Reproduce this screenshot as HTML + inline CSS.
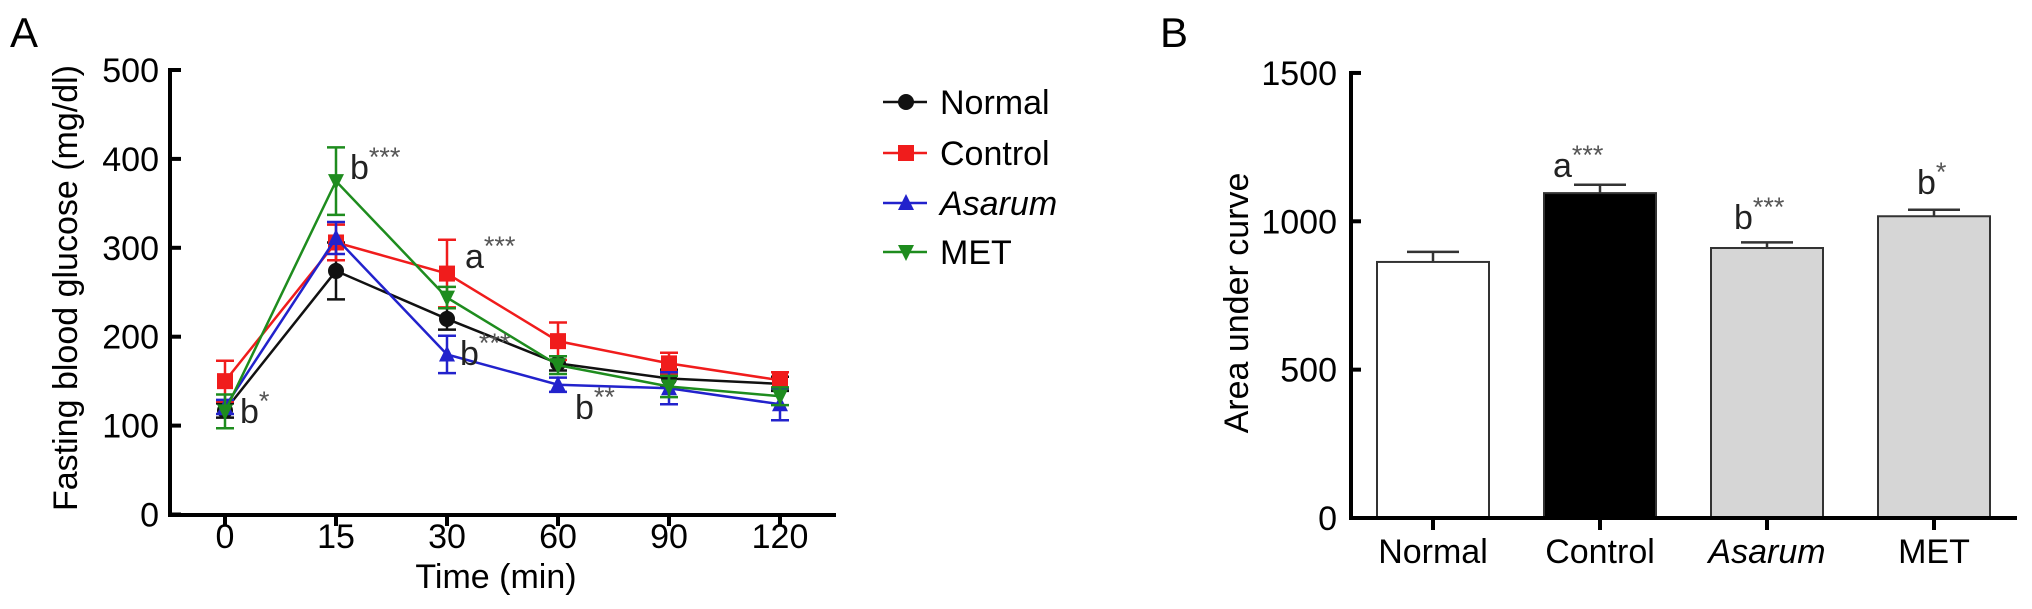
<!DOCTYPE html>
<html><head><meta charset="utf-8"><style>
body{margin:0;background:#fff;}
svg{display:block;font-family:"Liberation Sans",Arial,sans-serif;}
</style></head><body>
<svg id="chart" width="2032" height="609" viewBox="0 0 2032 609" xmlns="http://www.w3.org/2000/svg">
<text x="10" y="47" font-size="42">A</text>
<text x="1160" y="47" font-size="42">B</text>
<g id="pa"></g>
<g id="pb"></g>
</svg>
<script>
const timeCats = ["0","15","30","60","90","120"];
const seriesNames = ["Normal","Control","Asarum","MET"];
const normalVals = [117,274,220,170,153,147];
const controlVals = [150,306,271,195,170,151];
const asarumVals = [121,311,180,146,142,124];
const metVals = [116,375,244,168,144,133];
const normalErr = [8,32,12,8,10,8];
const controlErr = [23,20,38,21,12,9];
const asarumErr = [8,18,21,8,18,18];
const metErr = [19,38,12,10,12,10];
const yTicksA = [0,100,200,300,400,500];

const barCats = ["Normal","Control","Asarum","MET"];
const aucVals = [863,1095,910,1017];
const aucErr = [34,28,19,22];
const yTicksB = [0,500,1000,1500];

const NS="http://www.w3.org/2000/svg";
function mk(parent,tag,attrs,text){const e=document.createElementNS(NS,tag);for(const k in attrs)e.setAttribute(k,attrs[k]);if(text!==undefined)e.textContent=text;parent.appendChild(e);return e;}
const FS=34;

// Panel A
const pa=document.getElementById('pa');
const yA=v=>514.5-v*0.889;
const xA=i=>225+i*111;
let ax=mk(pa,'line',{x1:170,y1:yA(500)-2,x2:170,y2:517,stroke:'#000','stroke-width':4});


yTicksA.forEach(t=>{
  mk(pa,'line',{x1:170,x2:181,y1:yA(t),y2:yA(t),stroke:'#000','stroke-width':4});
  const l=mk(pa,'text',{x:159,y:yA(t)+12,'font-size':FS,'text-anchor':'end'},t);
  
  
});
let xax=mk(pa,'line',{x1:168,y1:515,x2:836,y2:515,stroke:'#000','stroke-width':4});


timeCats.forEach((c,i)=>{
  mk(pa,'line',{x1:xA(i),x2:xA(i),y1:515,y2:526,stroke:'#000','stroke-width':4});
  const l=mk(pa,'text',{x:xA(i),y:548,'font-size':FS,'text-anchor':'middle'},c);
  
  
});
let yt=mk(pa,'text',{transform:'translate(77,288) rotate(-90)','font-size':FS,'text-anchor':'middle'},'Fasting blood glucose (mg/dl)');


let xt=mk(pa,'text',{x:496,y:588,'font-size':FS,'text-anchor':'middle'},'Time (min)');



const colors=['#111','#f01c1c','#2222cc','#1e8c1e'];
const allVals=[normalVals,controlVals,asarumVals,metVals];
const allErr=[normalErr,controlErr,asarumErr,metErr];
function marker(g,k,x,y){
  const c=colors[k];
  if(k===0) return mk(g,'circle',{cx:x,cy:y,r:8,fill:c});
  if(k===1) return mk(g,'rect',{x:x-8,y:y-8,width:16,height:16,fill:c});
  if(k===2) return mk(g,'polygon',{points:`${x},${y-9} ${x-8},${y+7} ${x+8},${y+7}`,fill:c});
  return mk(g,'polygon',{points:`${x},${y+9} ${x-8},${y-7} ${x+8},${y-7}`,fill:c});
}
allVals.forEach((vals,k)=>{
  const g=mk(pa,'g',{});
  
  
  vals.forEach((v,i)=>{
    const e=allErr[k][i],x=xA(i);
    mk(g,'line',{x1:x,x2:x,y1:yA(v-e),y2:yA(v+e),stroke:colors[k],'stroke-width':2.5});
    mk(g,'line',{x1:x-9,x2:x+9,y1:yA(v-e),y2:yA(v-e),stroke:colors[k],'stroke-width':2.5});
    mk(g,'line',{x1:x-9,x2:x+9,y1:yA(v+e),y2:yA(v+e),stroke:colors[k],'stroke-width':2.5});
  });
  mk(g,'polyline',{points:vals.map((v,i)=>xA(i)+','+yA(v)).join(' '),fill:'none',stroke:colors[k],'stroke-width':2.5});
  vals.forEach((v,i)=>{
    const m=marker(g,k,xA(i),yA(v));
    
    
  });
});
function annot(parent,x,y,letter,stars,name){
  const t=mk(parent,'text',{x:x,y:y,'font-size':FS,fill:'#222'});
  
  
  mk(t,'tspan',{},letter);
  mk(t,'tspan',{dy:-13,'font-size':27,fill:'#555'},stars);
}
annot(pa,240,423,'b','*','annot-met-0');
annot(pa,350,179,'b','***','annot-met-15');
annot(pa,465,268,'a','***','annot-control-30');
annot(pa,460,365,'b','***','annot-asarum-30');
annot(pa,575,419,'b','**','annot-asarum-60');

// legend
const ly=[102,153,203,252];
seriesNames.forEach((n,k)=>{
  const g=mk(pa,'g',{});
  
  
  mk(g,'line',{x1:883,x2:927,y1:ly[k],y2:ly[k],stroke:colors[k],'stroke-width':2.5});
  marker(g,k,906,ly[k]);
  const t=mk(g,'text',{x:940,y:ly[k]+12,'font-size':FS},n);
  if(k===2) t.setAttribute('font-style','italic');
});

// Panel B
const pb=document.getElementById('pb');
const yB=v=>518-v*0.2967;
const xB=i=>1433+i*167;
let bax=mk(pb,'line',{x1:1351,y1:yB(1500)-2,x2:1351,y2:520,stroke:'#000','stroke-width':4});


yTicksB.forEach(t=>{
  mk(pb,'line',{x1:1351,x2:1361,y1:yB(t),y2:yB(t),stroke:'#000','stroke-width':4});
  const l=mk(pb,'text',{x:1337,y:yB(t)+12,'font-size':FS,'text-anchor':'end'},t);
  
  
});
let byt=mk(pb,'text',{transform:'translate(1248,303) rotate(-90)','font-size':FS,'text-anchor':'middle'},'Area under curve');


const fills=['#fff','#000','#d6d6d6','#d6d6d6'];
aucVals.forEach((v,i)=>{
  const x=xB(i),w=112,e=aucErr[i];
  mk(pb,'line',{x1:x,x2:x,y1:yB(v),y2:yB(v+e),stroke:'#333','stroke-width':2.5});
  mk(pb,'line',{x1:x-26,x2:x+26,y1:yB(v+e),y2:yB(v+e),stroke:'#333','stroke-width':2.5});
  const b=mk(pb,'rect',{x:x-w/2,y:yB(v),width:w,height:518-yB(v),fill:fills[i],stroke:'#333','stroke-width':2});
  
  
  mk(pb,'line',{x1:x,x2:x,y1:518,y2:530,stroke:'#000','stroke-width':4});
  const l=mk(pb,'text',{x:x,y:563,'font-size':FS,'text-anchor':'middle'},barCats[i]);
  if(i===2) l.setAttribute('font-style','italic');
  
  
});
let bxx=mk(pb,'line',{x1:1349,y1:518,x2:2017,y2:518,stroke:'#000','stroke-width':4});


annot(pb,1553,177,'a','***','annot-control-auc');
annot(pb,1734,229,'b','***','annot-asarum-auc');
annot(pb,1917,194,'b','*','annot-met-auc');
</script>
</body></html>
